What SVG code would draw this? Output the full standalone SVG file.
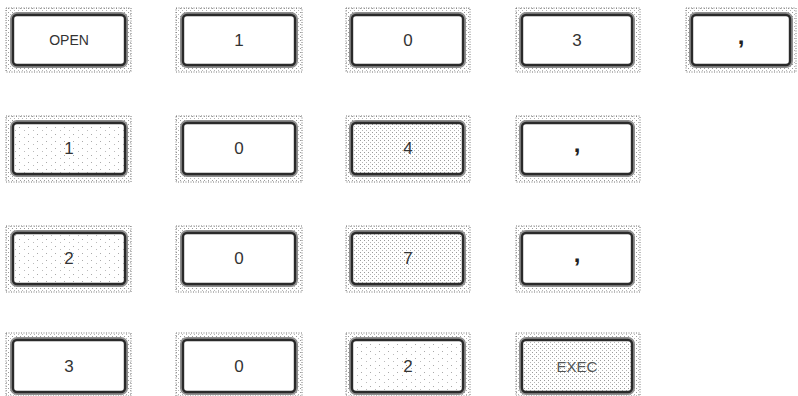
<svg xmlns="http://www.w3.org/2000/svg" width="798" height="396" viewBox="0 0 798 396">
<defs>
<pattern id="stip" width="4" height="4" patternUnits="userSpaceOnUse">
<rect width="4" height="4" fill="#fff"/>
<rect x="0" y="0" width="1" height="1" fill="#9a9a9a"/>
<rect x="2" y="2" width="1" height="1" fill="#b5b5b5"/>
</pattern>
<pattern id="sparse" width="9" height="7" patternUnits="userSpaceOnUse">
<rect width="9" height="7" fill="#fff"/>
<rect x="1" y="1" width="1" height="1" fill="#aaa"/>
<rect x="6" y="4" width="1" height="1" fill="#bbb"/>
</pattern>
<style>
.frame{fill:url(#stip);stroke:#777;stroke-width:1;stroke-dasharray:1 1.5}
.shade{fill:none;stroke:#8f8f8f;stroke-width:6}
.key{fill:#fff;stroke:#2a2a2a;stroke-width:2.4}
.lit{fill:url(#sparse)}
.t{font-family:"Liberation Sans",Arial,sans-serif;font-size:17px;fill:#333;text-anchor:middle;dominant-baseline:central}
.s{font-size:14px}
.c{font-size:24px;font-weight:bold;fill:#222}
.e{font-size:15px;fill:#555}
</style>
</defs>
<g id="key-open"><rect class="frame" x="6" y="8" width="125" height="64"/><rect class="shade" x="13" y="15" width="112" height="50" rx="4"/><rect class="key" x="13" y="15" width="112" height="50" rx="4"/><text class="t s" x="69" y="40">OPEN</text></g>
<g id="key-r1-1"><rect class="frame" x="176" y="8" width="126" height="64"/><rect class="shade" x="183" y="15" width="112" height="50" rx="4"/><rect class="key" x="183" y="15" width="112" height="50" rx="4"/><text class="t" x="239" y="40">1</text></g>
<g id="key-r1-0"><rect class="frame" x="346" y="8" width="124" height="64"/><rect class="shade" x="352" y="15" width="111" height="50" rx="4"/><rect class="key" x="352" y="15" width="111" height="50" rx="4"/><text class="t" x="408" y="40">0</text></g>
<g id="key-r1-3"><rect class="frame" x="516" y="8" width="124" height="64"/><rect class="shade" x="522" y="15" width="110" height="50" rx="4"/><rect class="key" x="522" y="15" width="110" height="50" rx="4"/><text class="t" x="577" y="40">3</text></g>
<g id="key-r1-comma"><rect class="frame" x="686" y="8" width="110" height="64"/><rect class="shade" x="692" y="15" width="98" height="50" rx="4"/><rect class="key" x="692" y="15" width="98" height="50" rx="4"/><text class="t c" x="741" y="35">,</text></g>

<g id="key-r2-1"><rect class="frame" x="6" y="116" width="125" height="66"/><rect class="shade" x="13" y="123" width="112" height="51" rx="4"/><rect class="key lit" x="13" y="123" width="112" height="51" rx="4"/><text class="t" x="69" y="148">1</text></g>
<g id="key-r2-0"><rect class="frame" x="176" y="116" width="126" height="66"/><rect class="shade" x="183" y="123" width="112" height="51" rx="4"/><rect class="key" x="183" y="123" width="112" height="51" rx="4"/><text class="t" x="239" y="148">0</text></g>
<g id="key-r2-4"><rect class="frame" x="346" y="116" width="124" height="66"/><rect class="shade" x="352" y="123" width="111" height="51" rx="4"/><rect class="key" x="352" y="123" width="111" height="51" rx="4" style="fill:url(#stip)"/><text class="t" x="408" y="148">4</text></g>
<g id="key-r2-comma"><rect class="frame" x="516" y="116" width="124" height="66"/><rect class="shade" x="522" y="123" width="110" height="51" rx="4"/><rect class="key" x="522" y="123" width="110" height="51" rx="4"/><text class="t c" x="577" y="143">,</text></g>

<g id="key-r3-2"><rect class="frame" x="6" y="226" width="125" height="66"/><rect class="shade" x="13" y="233" width="112" height="51" rx="4"/><rect class="key lit" x="13" y="233" width="112" height="51" rx="4"/><text class="t" x="69" y="258">2</text></g>
<g id="key-r3-0"><rect class="frame" x="176" y="226" width="126" height="66"/><rect class="shade" x="183" y="233" width="112" height="51" rx="4"/><rect class="key" x="183" y="233" width="112" height="51" rx="4"/><text class="t" x="239" y="258">0</text></g>
<g id="key-r3-7"><rect class="frame" x="346" y="226" width="124" height="66"/><rect class="shade" x="352" y="233" width="111" height="51" rx="4"/><rect class="key" x="352" y="233" width="111" height="51" rx="4" style="fill:url(#stip)"/><text class="t" x="408" y="258">7</text></g>
<g id="key-r3-comma"><rect class="frame" x="516" y="226" width="124" height="66"/><rect class="shade" x="522" y="233" width="110" height="51" rx="4"/><rect class="key" x="522" y="233" width="110" height="51" rx="4"/><text class="t c" x="577" y="253">,</text></g>

<g id="key-r4-3"><rect class="frame" x="6" y="333" width="125" height="63"/><rect class="shade" x="13" y="340" width="112" height="52" rx="4"/><rect class="key" x="13" y="340" width="112" height="52" rx="4"/><text class="t" x="69" y="366">3</text></g>
<g id="key-r4-0"><rect class="frame" x="176" y="333" width="126" height="63"/><rect class="shade" x="183" y="340" width="112" height="52" rx="4"/><rect class="key" x="183" y="340" width="112" height="52" rx="4"/><text class="t" x="239" y="366">0</text></g>
<g id="key-r4-2"><rect class="frame" x="346" y="333" width="124" height="63"/><rect class="shade" x="352" y="340" width="111" height="52" rx="4"/><rect class="key lit" x="352" y="340" width="111" height="52" rx="4"/><text class="t" x="408" y="366">2</text></g>
<g id="key-exec"><rect class="frame" x="516" y="333" width="124" height="63"/><rect class="shade" x="522" y="340" width="110" height="52" rx="4"/><rect class="key" x="522" y="340" width="110" height="52" rx="4" style="fill:url(#stip)"/><text class="t e" x="577" y="366">EXEC</text></g>
<g id="connectors"/>
</svg>
